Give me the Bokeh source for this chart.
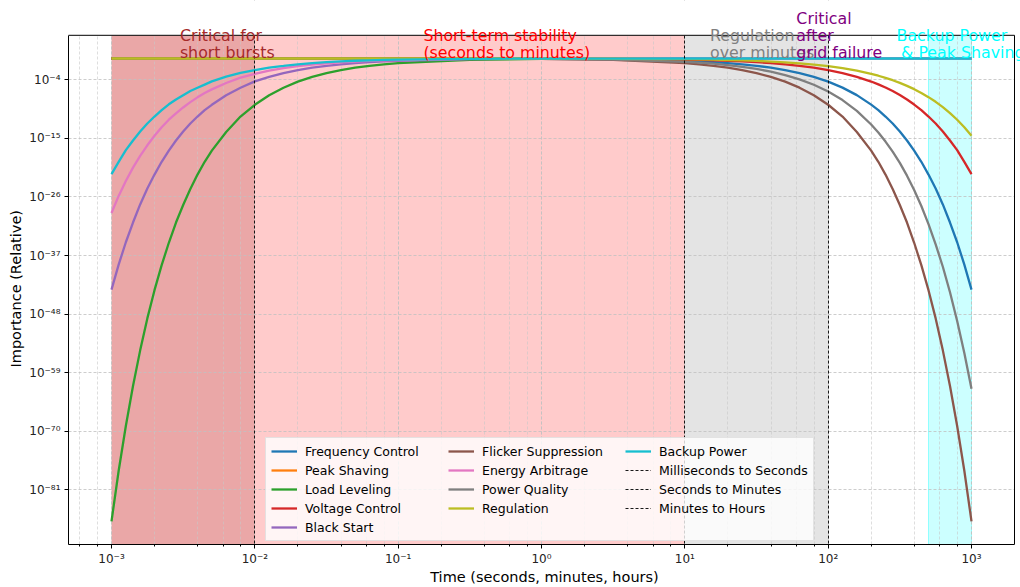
from bokeh.plotting import figure
from bokeh.models import (Range1d, FixedTicker, LogTicker, CustomJSTickFormatter,
                          Label, Legend, LegendItem, BoxAnnotation, Title)
from bokeh.embed import file_html
from bokeh.resources import INLINE

# ---------------- data (log10 of relative importance) ----------------
log10_time = [-3.0, -2.95, -2.9, -2.85, -2.8, -2.75, -2.7, -2.65, -2.6, -2.55, -2.5, -2.45, -2.4, -2.35, -2.3,
              -2.2, -2.1, -2.0, -1.9, -1.8, -1.7, -1.6, -1.5, -1.4, -1.3, -1.2, -1.1, -1.0,
              -0.5, 0.0, 0.5,
              1.0, 1.1, 1.2, 1.3, 1.4, 1.5, 1.6, 1.7, 1.8, 1.9, 2.0, 2.1, 2.2, 2.3,
              2.35, 2.4, 2.45, 2.5, 2.55, 2.6, 2.65, 2.7, 2.75, 2.8, 2.85, 2.9, 2.95, 3.0]

frequency_control = ([0, 0, 0, 0, 0, 0, 0, 0, 0, 0, 0, 0, 0, 0, 0]
                     + [0, 0, 0, 0, 0, 0, 0, 0, 0, 0, 0, 0, 0]
                     + [-0.01, -0.04, -0.14]
                     + [-0.43, -0.55, -0.69, -0.87, -1.09, -1.37, -1.73, -2.18, -2.74, -3.45, -4.34, -5.47, -6.88, -8.67]
                     + [-9.7, -10.9, -12.2, -13.7, -15.4, -17.3, -19.4, -21.8, -24.4, -27.4, -30.8, -34.5, -38.7, -43.4])
peak_shaving = ([0, 0, 0, 0, 0, 0, 0, 0, 0, 0, 0, 0, 0, 0, 0]
                + [0, 0, 0, 0, 0, 0, 0, 0, 0, 0, 0, 0, 0]
                + [0, 0, 0]
                + [0, 0, 0, 0, 0, 0, 0, 0, 0, 0, 0, 0, 0, 0]
                + [0, 0, 0, 0, 0, 0, 0, 0, 0, 0, 0, 0, 0, 0])
load_leveling = ([-86.9, -77.4, -69.0, -61.5, -54.8, -48.8, -43.5, -38.8, -34.6, -30.8, -27.5, -24.5, -21.8, -19.4, -17.3]
                 + [-13.8, -10.9, -8.7, -6.9, -5.5, -4.35, -3.46, -2.75, -2.18, -1.73, -1.38, -1.09, -0.87]
                 + [-0.27, -0.09, -0.03]
                 + [-0.01, 0, 0, 0, 0, 0, 0, 0, 0, 0, 0, 0, 0, 0]
                 + [0, 0, 0, 0, 0, 0, 0, 0, 0, 0, 0, 0, 0, 0])
voltage_control = ([0, 0, 0, 0, 0, 0, 0, 0, 0, 0, 0, 0, 0, 0, 0]
                   + [0, 0, 0, 0, 0, 0, 0, 0, 0, 0, 0, 0, 0]
                   + [0, -0.02, -0.07]
                   + [-0.22, -0.27, -0.34, -0.43, -0.55, -0.69, -0.86, -1.09, -1.37, -1.73, -2.17, -2.73, -3.44, -4.33]
                   + [-4.86, -5.46, -6.12, -6.87, -7.7, -8.65, -9.7, -10.9, -12.2, -13.7, -15.4, -17.2, -19.4, -21.7])
black_start = ([-43.4, -38.7, -34.5, -30.8, -27.4, -24.4, -21.8, -19.4, -17.3, -15.4, -13.7, -12.2, -10.9, -9.7, -8.7]
               + [-6.9, -5.5, -4.3, -3.45, -2.74, -2.18, -1.73, -1.37, -1.09, -0.87, -0.69, -0.55, -0.43]
               + [-0.14, -0.04, -0.01]
               + [0, 0, 0, 0, 0, 0, 0, 0, 0, 0, 0, 0, 0, 0]
               + [0, 0, 0, 0, 0, 0, 0, 0, 0, 0, 0, 0, 0, 0])
flicker_suppression = ([0, 0, 0, 0, 0, 0, 0, 0, 0, 0, 0, 0, 0, 0, 0]
                       + [0, 0, 0, 0, 0, 0, 0, 0, 0, 0, 0, 0, -0.01]
                       + [-0.03, -0.09, -0.27]
                       + [-0.87, -1.09, -1.38, -1.73, -2.18, -2.75, -3.46, -4.35, -5.48, -6.9, -8.69, -10.9, -13.8, -17.3]
                       + [-19.4, -21.8, -24.5, -27.5, -30.8, -34.6, -38.8, -43.5, -48.8, -54.8, -61.5, -69.0, -77.4, -86.9])
energy_arbitrage = ([-29.0, -25.8, -23.0, -20.5, -18.3, -16.3, -14.5, -12.9, -11.5, -10.3, -9.2, -8.2, -7.3, -6.5, -5.8]
                    + [-4.6, -3.6, -2.9, -2.3, -1.8, -1.45, -1.15, -0.92, -0.73, -0.58, -0.46, -0.36, -0.29]
                    + [-0.09, -0.03, -0.01]
                    + [0, 0, 0, 0, 0, 0, 0, 0, 0, 0, 0, 0, 0, 0]
                    + [0, 0, 0, 0, 0, 0, 0, 0, 0, 0, 0, 0, 0, 0])
power_quality = ([0, 0, 0, 0, 0, 0, 0, 0, 0, 0, 0, 0, 0, 0, 0]
                 + [0, 0, 0, 0, 0, 0, 0, 0, 0, 0, 0, 0, -0.01]
                 + [-0.02, -0.06, -0.2]
                 + [-0.62, -0.78, -0.98, -1.24, -1.56, -1.96, -2.47, -3.11, -3.91, -4.93, -6.2, -7.81, -9.83, -12.4]
                 + [-13.9, -15.6, -17.5, -19.6, -22.0, -24.7, -27.7, -31.1, -34.9, -39.1, -43.9, -49.3, -55.3, -62.0])
regulation = ([0, 0, 0, 0, 0, 0, 0, 0, 0, 0, 0, 0, 0, 0, 0]
              + [0, 0, 0, 0, 0, 0, 0, 0, 0, 0, 0, 0, 0]
              + [0, -0.01, -0.05]
              + [-0.14, -0.18, -0.23, -0.29, -0.36, -0.46, -0.58, -0.73, -0.91, -1.15, -1.45, -1.82, -2.29, -2.89]
              + [-3.24, -3.64, -4.08, -4.58, -5.14, -5.76, -6.47, -7.26, -8.14, -9.13, -10.25, -11.5, -12.9, -14.5])
backup_power = ([-21.7, -19.4, -17.2, -15.4, -13.7, -12.2, -10.9, -9.7, -8.6, -7.7, -6.9, -6.1, -5.5, -4.9, -4.3]
                + [-3.4, -2.7, -2.2, -1.7, -1.4, -1.09, -0.86, -0.69, -0.55, -0.43, -0.34, -0.27, -0.22]
                + [-0.07, -0.02, -0.01]
                + [0, 0, 0, 0, 0, 0, 0, 0, 0, 0, 0, 0, 0, 0]
                + [0, 0, 0, 0, 0, 0, 0, 0, 0, 0, 0, 0, 0, 0])

series_names = ["Frequency Control", "Peak Shaving", "Load Leveling", "Voltage Control",
                "Black Start", "Flicker Suppression", "Energy Arbitrage", "Power Quality",
                "Regulation", "Backup Power"]
series_values = [frequency_control, peak_shaving, load_leveling, voltage_control, black_start,
                 flicker_suppression, energy_arbitrage, power_quality, regulation, backup_power]
series_colors = ["#1f77b4", "#ff7f0e", "#2ca02c", "#d62728", "#9467bd",
                 "#8c564b", "#e377c2", "#7f7f7f", "#bcbd22", "#17becf"]

transition_times = [1e-2, 1e1, 1e2]
transition_names = ["Milliseconds to Seconds", "Seconds to Minutes", "Minutes to Hours"]

# shaded regions (start, end, colour)
region_starts = [1e-3, 1e-2, 1e1, 5e2]
region_ends = [1e-2, 1e1, 1e2, 1e3]
region_colors = ["#eaa7a7", "#ffcbcb", "#e4e4e4", "#ccffff"]

# region annotations: x position (data), lines, colour
note_x = [3e-3, 1.5e-1, 1.5e1, 6e1, 3e2]
note_lines = [["Critical for", "short bursts"],
              ["Short-term stability", "(seconds to minutes)"],
              ["Regulation", "over minutes"],
              ["Critical", "after", "grid failure"],
              ["Backup Power", "& Peak Shaving"]]
note_colors = ["#a52a2a", "#ff0000", "#808080", "#800080", "#00ffff"]

y_tick_exponents = [-81, -70, -59, -48, -37, -26, -15, -4]

# axes limits (log10) of the visible box
X_LO, X_HI = -3.3, 3.3
Y_LO, Y_HI = -91.25, 4.35

# ---------------- figure ----------------
FONT = "DejaVu Sans"
time_values = [10 ** v for v in log10_time]

# The plotting frame is extended to the top/right page edge so that the notes are not clipped;
# the visible axes box is drawn explicitly.
W, H = 1020, 587
LEFT, BOTTOM = 68, 40
box_w, box_h = 946, 512
x_ppd = box_w / (X_HI - X_LO)
y_ppd = box_h / (Y_HI - Y_LO)
x_end = X_HI + (W - LEFT - box_w) / x_ppd
y_end = Y_HI + (H - BOTTOM - box_h) / y_ppd

p = figure(width=W, height=H, x_axis_type="log", y_axis_type="log",
           x_range=Range1d(10 ** X_LO, 10 ** x_end), y_range=Range1d(10 ** Y_LO, 10 ** y_end),
           output_backend="svg", toolbar_location=None,
           min_border_left=LEFT, min_border_right=0, min_border_top=0, min_border_bottom=BOTTOM)
p.background_fill_color = "white"
p.border_fill_color = "white"
p.outline_line_color = None

p.quad(left=region_starts, right=region_ends, bottom=10 ** Y_LO, top=10 ** Y_HI,
       fill_color=region_colors, fill_alpha=1.0, line_color=None, level="image")
p.vspan(x=[region_starts[3], region_ends[3]], line_color="#00ffff", line_alpha=0.35,
        line_width=1, level="image")

renderers = []
for name, vals, col in zip(series_names, series_values, series_colors):
    r = p.line(time_values, [10 ** v for v in vals], line_color=col, line_width=2.3)
    renderers.append(r)

span_renderers = []
for t in transition_times:
    span_renderers.append(p.vspan(x=[t], line_color="black", line_width=0.9, line_dash="3 2"))

blank = p.line([], [], line_alpha=0)

# white covers outside the axes box, then the box's top and right edges
p.add_layout(BoxAnnotation(bottom=10 ** Y_HI, top=10 ** (y_end + 20), left=10 ** (X_LO - 1), right=10 ** (x_end + 1),
                           fill_color="white", fill_alpha=1.0, line_color=None, level="guide"))
p.add_layout(BoxAnnotation(left=10 ** X_HI, right=10 ** (x_end + 1), bottom=10 ** (Y_LO - 20), top=10 ** (y_end + 20),
                           fill_color="white", fill_alpha=1.0, line_color=None, level="guide"))
p.segment(x0=[10 ** X_LO, 10 ** X_HI], y0=[10 ** Y_HI, 10 ** Y_LO],
          x1=[10 ** X_HI, 10 ** X_HI], y1=[10 ** Y_HI, 10 ** Y_HI],
          line_color="black", line_width=1, level="overlay")

# axes
p.xaxis.ticker = LogTicker(desired_num_ticks=7, mantissas=[1])
p.yaxis.ticker = FixedTicker(ticks=[10.0 ** e for e in y_tick_exponents], minor_ticks=[])
p.xaxis.bounds = (10 ** X_LO, 10 ** X_HI)
p.yaxis.bounds = (10 ** Y_LO, 10 ** Y_HI)
fmt = CustomJSTickFormatter(code="""
const sup = {'-':'\u207b','0':'\u2070','1':'\u00b9','2':'\u00b2','3':'\u00b3','4':'\u2074',
             '5':'\u2075','6':'\u2076','7':'\u2077','8':'\u2078','9':'\u2079'};
const e = Math.round(Math.log10(tick));
return '10' + String(e).split('').map(c => sup[c]).join('');
""")
p.xaxis.formatter = fmt
p.yaxis.formatter = fmt
for ax in [p.xaxis[0], p.yaxis[0]]:
    ax.axis_line_color = "black"
    ax.axis_line_width = 1
    ax.major_tick_line_color = "black"
    ax.minor_tick_line_color = "black"
    ax.major_tick_in = 0
    ax.major_tick_out = 4
    ax.minor_tick_in = 0
    ax.minor_tick_out = 2
    ax.major_label_text_font = FONT
    ax.major_label_text_font_size = "12px"
    ax.major_label_text_color = "#222222"
    ax.axis_label_text_font = FONT
    ax.axis_label_text_font_size = "14.5px"
    ax.axis_label_text_font_style = "normal"
    ax.axis_label_text_color = "black"
p.xaxis.axis_label = "Time (seconds, minutes, hours)"
p.xaxis.axis_label_standoff = 0
p.xaxis.major_label_standoff = 3
p.yaxis.major_label_standoff = 4

# y label centred on the visible axes box (the frame itself reaches the page top)
y_label_len = 158
p.add_layout(Title(text="Importance (Relative)", align="left",
                   offset=int(round(box_h / 2 - y_label_len / 2)),
                   text_font=FONT, text_font_size="14.5px", text_font_style="normal",
                   text_color="black", standoff=6), "left")

p.xgrid.grid_line_color = "#c0c0c0"
p.xgrid.grid_line_dash = "3 2"
p.xgrid.grid_line_width = 0.8
p.xgrid.minor_grid_line_color = "#c8c8c8"
p.xgrid.minor_grid_line_dash = "3 2"
p.xgrid.minor_grid_line_width = 0.6
p.ygrid.grid_line_color = "#c0c0c0"
p.ygrid.grid_line_dash = "3 2"
p.ygrid.grid_line_width = 0.8

# region notes (each line is a separate label, bottom line baseline aligned)
for xv, lines, col in zip(note_x, note_lines, note_colors):
    n = len(lines)
    for i, txt in enumerate(lines):
        off = 4.5 if txt.startswith("&") else 0
        p.add_layout(Label(x=xv, y=492 + 17.2 * (n - 1 - i), x_units="data", y_units="screen",
                           x_offset=off, text=txt, text_color=col, text_font=FONT,
                           text_font_size="15.8px", text_baseline="alphabetic", text_align="left",
                           level="overlay"))

# legend
items = [LegendItem(label=n, renderers=[r]) for n, r in zip(series_names, renderers)]
col1 = items[:5]
col2 = items[5:9] + [LegendItem(label=" ", renderers=[blank])]
col3 = [items[9]] + [LegendItem(label=n, renderers=[r]) for n, r in zip(transition_names, span_renderers)]
legend = Legend(items=col1 + col2 + col3, location=(197, 3), orientation="vertical", nrows=5,
                label_text_font=FONT, label_text_font_size="12.5px", label_text_color="black",
                glyph_width=26, glyph_height=16, label_height=16, label_width=140,
                label_standoff=8, spacing=3, padding=5, margin=0,
                background_fill_color="white", background_fill_alpha=0.8,
                border_line_color="#cccccc", border_line_width=1)
p.add_layout(legend)

open("out.html", "w").write(file_html(p, INLINE))
